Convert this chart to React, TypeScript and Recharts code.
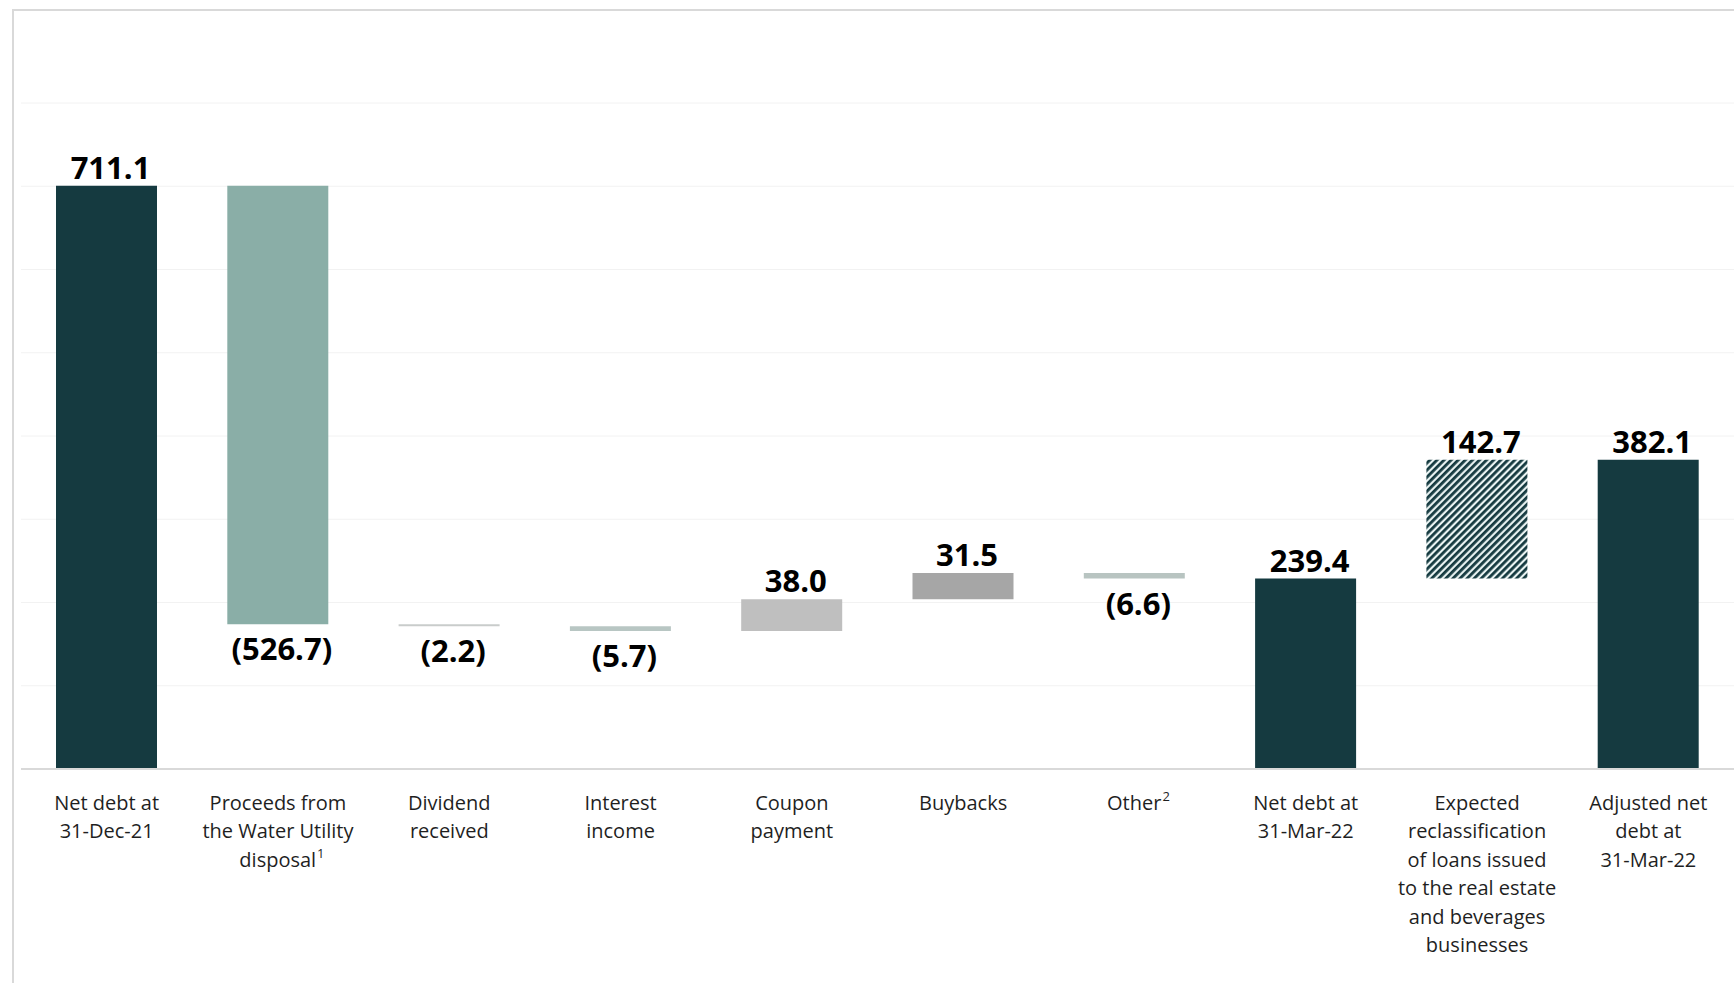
import { BarChart, Bar, XAxis, YAxis, CartesianGrid, Cell, LabelList } from "recharts"

const categories = [
  "Net debt at\n31-Dec-21",
  "Proceeds from\nthe Water Utility\ndisposal",
  "Dividend\nreceived",
  "Interest\nincome",
  "Coupon\npayment",
  "Buybacks",
  "Other",
  "Net debt at\n31-Mar-22",
  "Expected\nreclassification\nof loans issued\nto the real estate\nand beverages\nbusinesses",
  "Adjusted net\ndebt at\n31-Mar-22",
]
const footnotes = ["", "1", "", "", "", "", "2", "", "", ""]
const amounts = [711.1, -526.7, -2.2, -5.7, 38.0, 31.5, -6.6, 239.4, 142.7, 382.1]
const isTotal = [true, false, false, false, false, false, false, true, false, true]

const fills = [
  "#153a40",
  "#8aaea7",
  "#c9cccb",
  "#b8c6c3",
  "#bfbfbf",
  "#a6a6a6",
  "#b8c4c1",
  "#153a40",
  "url(#hatch)",
  "#153a40",
]

// axis sits a little above zero in the original, gridlines every 100 from there
const AXIS_FLOOR = 10.6
const GRID_STEP = 100
const gridTicks = Array.from({ length: 9 }, (_, i) => AXIS_FLOOR + i * GRID_STEP)

let running = 0
const rows = categories.map((name, i) => {
  const v = amounts[i]
  let range: [number, number]
  if (isTotal[i]) {
    range = [0, v]
    running = v
  } else {
    const next = running + v
    range = [Math.min(running, next), Math.max(running, next)]
    running = next
  }
  return { name, range }
})

const fmt = (v: number) => (v < 0 ? `(${Math.abs(v).toFixed(1)})` : v.toFixed(1))

const FONT = "'Open Sans', 'Noto Sans', sans-serif"

function CategoryTick(props: any) {
  const { x, y, payload, index } = props
  const lines = String(payload.value).split("\n")
  const note = footnotes[index]
  return (
    <g transform={`translate(${x},${y})`}>
      {lines.map((line, i) => {
        const last = i === lines.length - 1
        return (
          <text
            key={i}
            x={note && last ? 4 : 0}
            y={33 + i * 28.5}
            textAnchor="middle"
            dominantBaseline="central"
            fontFamily={FONT}
            fontSize={20}
            fill="#1f1f1f"
          >
            {line}
            {note && last ? (
              <tspan fontSize={13} dy={-6} dx={1}>
                {note}
              </tspan>
            ) : null}
          </text>
        )
      })}
    </g>
  )
}

function ValueLabel(props: any) {
  const { x, y, width, height, index } = props
  const v = amounts[index]
  const top = Math.min(y, y + height)
  const bottom = Math.max(y, y + height)
  const up = v >= 0
  return (
    <text
      x={x + width / 2 + 4}
      y={up ? top - 19 : bottom + 24}
      textAnchor="middle"
      dominantBaseline="central"
      fontFamily={FONT}
      fontWeight={700}
      fontSize={31}
      fill="#000"
    >
      {fmt(v)}
    </text>
  )
}

export default function App() {
  return (
    <div style={{ position: "absolute", left: 0, top: 0, width: 1734, height: 983, background: "#fff" }}>
      <div
        style={{
          position: "absolute",
          left: 12,
          top: 9,
          right: 0,
          bottom: -10,
          borderTop: "2px solid #d9d9d9",
          borderLeft: "2px solid #d9d9d9",
        }}
      />
      <div style={{ position: "absolute", left: 0, top: 0 }}>
        <BarChart
          width={1734}
          height={983}
          data={rows}
          margin={{ top: 103, right: 0, bottom: 0, left: 21 }}
        >
          <defs>
            <pattern id="hatch" patternUnits="userSpaceOnUse" width={5} height={5} patternTransform="rotate(45)">
              <rect width={5} height={5} fill="#e9f3f2" />
              <rect width={2.8} height={5} fill="#153a40" />
            </pattern>
          </defs>
          <CartesianGrid vertical={false} stroke="#f2f2f2" />
          <XAxis
            dataKey="name"
            interval={0}
            height={214}
            tickLine={false}
            tickSize={0}
            tickMargin={0}
            axisLine={{ stroke: "#d9d9d9", strokeWidth: 2 }}
            tick={<CategoryTick />}
          />
          <YAxis hide domain={[AXIS_FLOOR, AXIS_FLOOR + 8 * GRID_STEP]} ticks={gridTicks} allowDataOverflow />
          <Bar dataKey="range" barSize={101} isAnimationActive={false}>
            {rows.map((r, i) => (
              <Cell key={r.name} fill={fills[i]} />
            ))}
            <LabelList dataKey="range" content={<ValueLabel />} />
          </Bar>
        </BarChart>
      </div>
    </div>
  )
}
